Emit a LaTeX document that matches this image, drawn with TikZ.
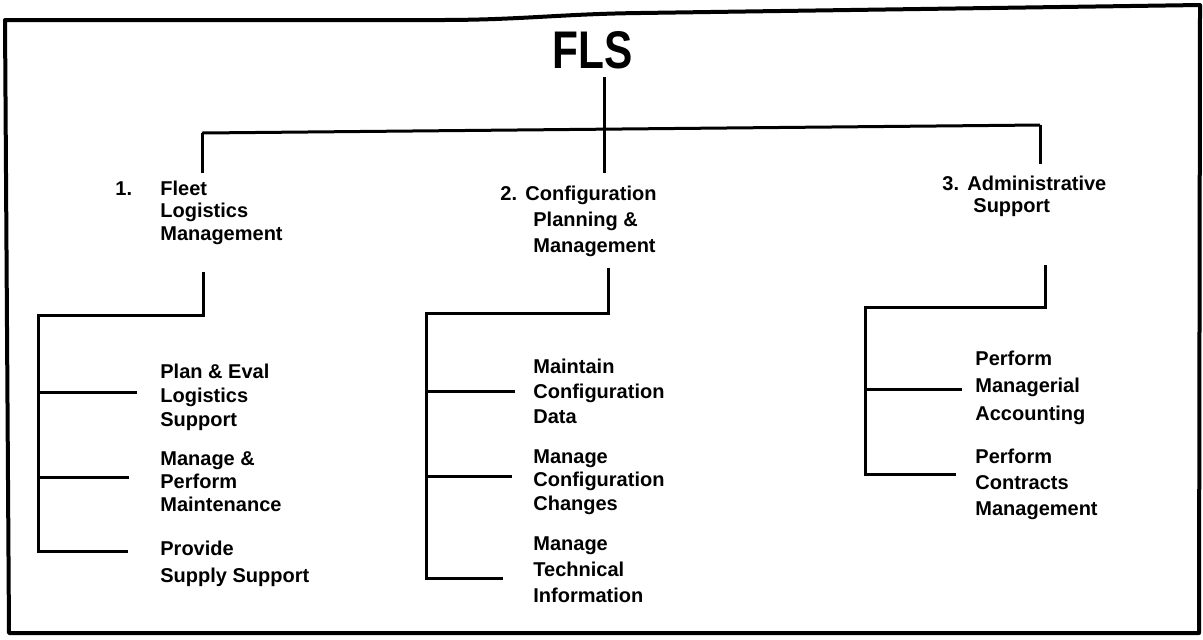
\documentclass[tikz,border=0pt]{standalone}
\usepackage{graphicx}
\usepackage{fontspec}
\setmainfont{Liberation Sans}
\usepackage{tikz}
\newcommand{\rows}[1]{\begin{tabular}[t]{@{}l@{}}#1\end{tabular}}

\begin{document}
\begin{tikzpicture}[x=0.5pt,y=-0.5pt,
  link/.style={line width=1.5pt},
  pageframe/.style={line width=2pt,line join=round},
  task/.style={anchor=base west,inner sep=0pt,font=\bfseries\fontsize{10}{#1}\selectfont},
  task/.default=12pt]
\useasboundingbox (0,0) rectangle (1203,639);
\fill[white] (0,0) rectangle (1203,639);
\draw[pageframe] (9,633) -- (5,20) -- (440,20) .. controls (520,20) and (560,14) .. (640,13) -- (1200,5) -- (1199,633) -- cycle;
\node[anchor=base,inner sep=0pt,font=\bfseries\fontsize{26.5}{30}\selectfont] (fls) at (593,68) {\scalebox{0.8}[1]{FLS}};
\node[task=11.25pt] (fleetno) at (115,195) {1.};
\node[task=11.25pt] (fleet) at (160,195) {\rows{Fleet\\Logistics\\Management}};
\node[task=13pt] (configno) at (500,200) {2.};
\node[task=13pt] (config) at (525,200) {\rows{Configuration\\\hspace*{4pt}Planning \&\\\hspace*{4pt}Management}};
\node[task=11pt] (adminno) at (942,190) {3.};
\node[task=11pt] (admin) at (967,190) {\rows{Administrative\\\hspace*{3pt}Support}};
\node[task=12pt] (plan) at (160,378) {\rows{Plan \& Eval\\Logistics\\Support}};
\node[task=11.5pt] (maint) at (160,465) {\rows{Manage \&\\Perform\\Maintenance}};
\node[task=13.5pt] (supply) at (160,555) {\rows{Provide\\Supply Support}};
\node[task=12.5pt] (cfgdata) at (533,373) {\rows{Maintain\\Configuration\\Data}};
\node[task=11.75pt] (cfgchg) at (533,463) {\rows{Manage\\Configuration\\Changes}};
\node[task=13pt] (techinfo) at (533,550) {\rows{Manage\\Technical\\Information}};
\node[task=13.75pt] (mgracct) at (975,365) {\rows{Perform\\Managerial\\Accounting}};
\node[task=13pt] (contracts) at (975,463) {\rows{Perform\\Contracts\\Management}};
\coordinate (barL) at (202,133);
\coordinate (barR) at (1040,125);
\coordinate (flsfoot) at (604,77);
\coordinate (fleettop) at (202,173);
\coordinate (configtop) at (604,173);
\coordinate (admintop) at (1040,164);
\draw[link] (barL) -- (barR);
\draw[link] (barL) -- (fleettop);
\draw[link] (flsfoot) -- (configtop);
\draw[link] (barR) -- (admintop);
\coordinate (fleetfoot) at (203,272);
\coordinate (fleetknee) at (203,315);
\coordinate (fleetspine) at (38,315);
\coordinate (planin) at (137,392);
\coordinate (maintin) at (129,477);
\coordinate (supplyin) at (128,551);
\draw[link] (fleetfoot) -- (fleetknee) -- (fleetspine) |- (supplyin);
\draw[link] (planin -| fleetspine) -- (planin);
\draw[link] (maintin -| fleetspine) -- (maintin);
\coordinate (configfoot) at (608,268);
\coordinate (configknee) at (608,313);
\coordinate (configspine) at (426,313);
\coordinate (cfgdatain) at (515,391);
\coordinate (cfgchgin) at (512,476);
\coordinate (techinfoin) at (503,578);
\draw[link] (configfoot) -- (configknee) -- (configspine) |- (techinfoin);
\draw[link] (cfgdatain -| configspine) -- (cfgdatain);
\draw[link] (cfgchgin -| configspine) -- (cfgchgin);
\coordinate (adminfoot) at (1045,265);
\coordinate (adminknee) at (1045,307);
\coordinate (adminspine) at (865,307);
\coordinate (mgracctin) at (962,389);
\coordinate (contractsin) at (956,474);
\draw[link] (adminfoot) -- (adminknee) -- (adminspine) |- (contractsin);
\draw[link] (mgracctin -| adminspine) -- (mgracctin);
\end{tikzpicture}
\end{document}
